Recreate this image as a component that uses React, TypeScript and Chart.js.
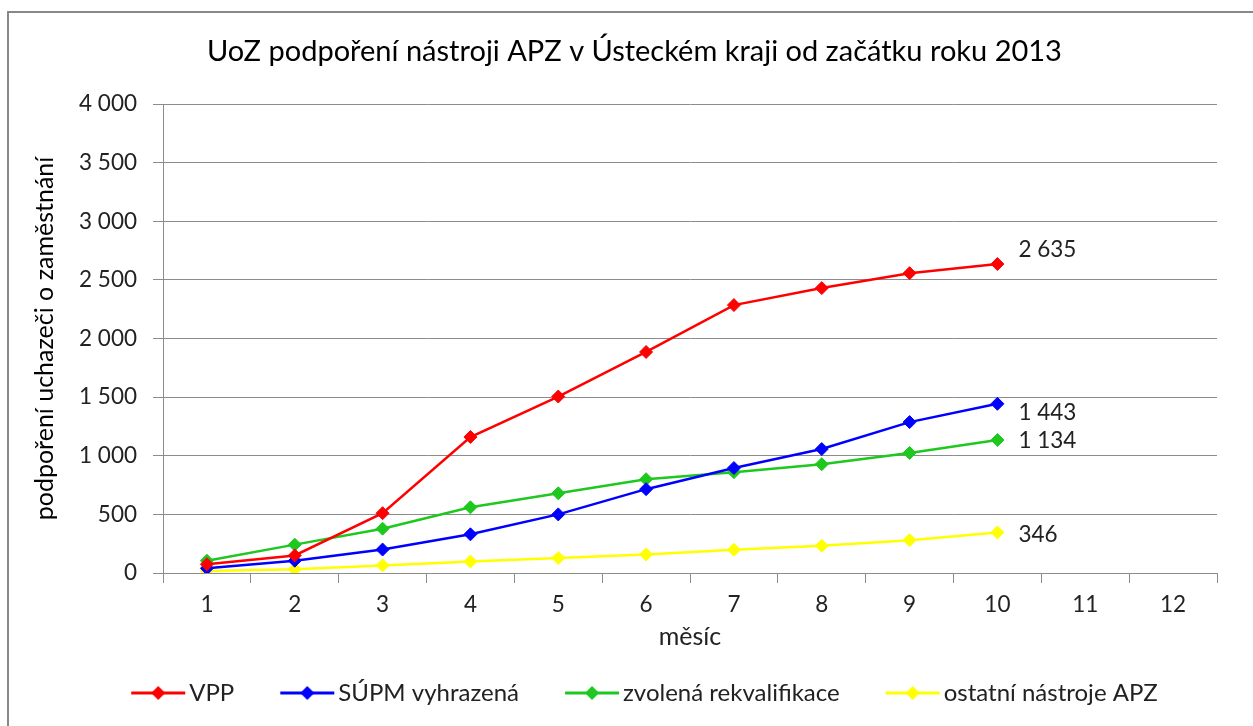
import React, { useEffect, useRef } from "react";
import { Chart, registerables } from "chart.js";

Chart.register(...registerables);

const months = ["1", "2", "3", "4", "5", "6", "7", "8", "9", "10", "11", "12"];
const vpp = [75, 150, 510, 1160, 1505, 1885, 2285, 2430, 2557, 2635];
const supm = [40, 105, 200, 330, 500, 715, 895, 1057, 1287, 1443];
const zvolena = [105, 242, 378, 560, 680, 800, 860, 928, 1024, 1134];
const ostatni = [18, 32, 65, 98, 128, 158, 198, 232, 280, 346];

const seriesNames = ["VPP", "SÚPM vyhrazená", "zvolená rekvalifikace", "ostatní nástroje APZ"];
const seriesColors = ["#FF0000", "#0000FF", "#1EC81E", "#FFFF00"];
const labelOffsetsY = [-14, 9, 1, 2];

const titleText = "UoZ podpoření nástroji APZ v Ústeckém kraji od začátku roku 2013";
const yTitle = "podpoření uchazeči o zaměstnání";
const xTitle = "měsíc";

const FONT = "Lato";
const TEXT = "#222222";
const GRID = "#8c8c8c";

const fmt = (v: number) => String(v).replace(/\B(?=(\d{3})+(?!\d))/g, " ");

function legendImg(color: string): HTMLCanvasElement {
  const c = document.createElement("canvas");
  c.width = 108;
  c.height = 18;
  const ctx = c.getContext("2d")!;
  ctx.strokeStyle = color;
  ctx.lineWidth = 3;
  ctx.beginPath();
  ctx.moveTo(53, 9);
  ctx.lineTo(107, 9);
  ctx.stroke();
  ctx.fillStyle = color;
  ctx.beginPath();
  ctx.moveTo(80, 2);
  ctx.lineTo(87, 9);
  ctx.lineTo(80, 16);
  ctx.lineTo(73, 9);
  ctx.closePath();
  ctx.fill();
  return c;
}

const endLabels = {
  id: "endLabels",
  afterDatasetsDraw(chart: any) {
    const ctx = chart.ctx;
    ctx.save();
    ctx.font = `22.5px ${FONT}`;
    ctx.fillStyle = TEXT;
    ctx.textAlign = "left";
    ctx.textBaseline = "middle";
    chart.data.datasets.forEach((ds: any, i: number) => {
      const meta = chart.getDatasetMeta(i);
      const n = ds.data.length;
      const pt = meta.data[n - 1];
      if (!pt) return;
      ctx.fillText(fmt(ds.data[n - 1]), pt.x + 21, pt.y + labelOffsetsY[i]);
    });
    ctx.restore();
  },
};

const boxShift = {
  id: "boxShift",
  afterLayout(chart: any) {
    const lg = chart.legend;
    if (lg) {
      lg.left += 14;
      lg.right += 14;
    }
    const tb = chart.titleBlock;
    if (tb) {
      tb.left += 26;
      tb.right += 26;
    }
  },
};

export default function App() {
  const ref = useRef<HTMLCanvasElement>(null);

  useEffect(() => {
    if (!ref.current) return;
    const data = [vpp, supm, zvolena, ostatni];
    const chart = new Chart(ref.current, {
      type: "line",
      data: {
        labels: months,
        datasets: data.map((d, i) => ({
          label: seriesNames[i],
          data: d,
          borderColor: seriesColors[i],
          backgroundColor: seriesColors[i],
          borderWidth: 2.5,
          pointStyle: "rectRot",
          pointRadius: 6.5,
          pointBorderWidth: 1,
          pointBackgroundColor: seriesColors[i],
          pointBorderColor: seriesColors[i],
          tension: 0,
          fill: false,
        })),
      },
      options: {
        responsive: false,
        animation: false,
        devicePixelRatio: 1,
        layout: { padding: { left: 0, right: 36, top: 0, bottom: 11 } },
        plugins: {
          title: {
            display: true,
            text: titleText,
            color: "#000",
            font: { family: FONT, size: 29, weight: "normal" },
            padding: { top: 34.6, bottom: 34.6 },
          },
          legend: {
            position: "bottom",
            labels: {
              usePointStyle: true,
              pointStyleWidth: 90,
              padding: 2,
              color: TEXT,
              font: { family: FONT, size: 24 },
              generateLabels(chart: any) {
                const items = Chart.defaults.plugins.legend.labels.generateLabels(chart);
                return items.map((it: any, i: number) => ({ ...it, pointStyle: legendImg(seriesColors[i]) }));
              },
            },
          },
          tooltip: { enabled: false },
        },
        scales: {
          x: {
            type: "category",
            offset: true,
            afterFit(scale: any) {
              scale.height = 106;
            },
            grid: {
              display: true,
              drawOnChartArea: false,
              drawTicks: true,
              tickLength: 10,
              offset: true,
              color: GRID,
            },
            border: { display: true, color: GRID, width: 1 },
            ticks: { color: TEXT, font: { family: FONT, size: 22.5 }, padding: 8, maxRotation: 0 },
            title: {
              display: true,
              text: xTitle,
              color: TEXT,
              font: { family: FONT, size: 25 },
              padding: { top: 0, bottom: 27 },
            },
          },
          y: {
            min: 0,
            max: 4000,
            afterFit(scale: any) {
              scale.width = 163;
            },
            grid: { color: GRID, drawTicks: true, tickLength: 10 },
            border: { display: true, color: GRID, width: 1 },
            ticks: {
              stepSize: 500,
              color: TEXT,
              font: { family: FONT, size: 22.5 },
              padding: 16,
              callback: (v: any) => fmt(Number(v)),
            },
            title: {
              display: true,
              text: yTitle,
              color: "#000",
              font: { family: FONT, size: 25 },
              padding: { top: 30, bottom: 0 },
            },
          },
        },
      },
      plugins: [endLabels, boxShift],
    });
    return () => chart.destroy();
  }, []);

  return (
    <div style={{ position: "fixed", left: 0, top: 0, width: 1253, height: 726, overflow: "hidden", background: "#fff" }}>
      <canvas ref={ref} width={1253} height={726} style={{ position: "absolute", left: 0, top: 0, width: 1253, height: 726 }} />
      <div
        style={{
          position: "absolute",
          left: 7,
          top: 11,
          width: 1300,
          height: 800,
          border: "2px solid #888888",
          pointerEvents: "none",
        }}
      />
    </div>
  );
}
